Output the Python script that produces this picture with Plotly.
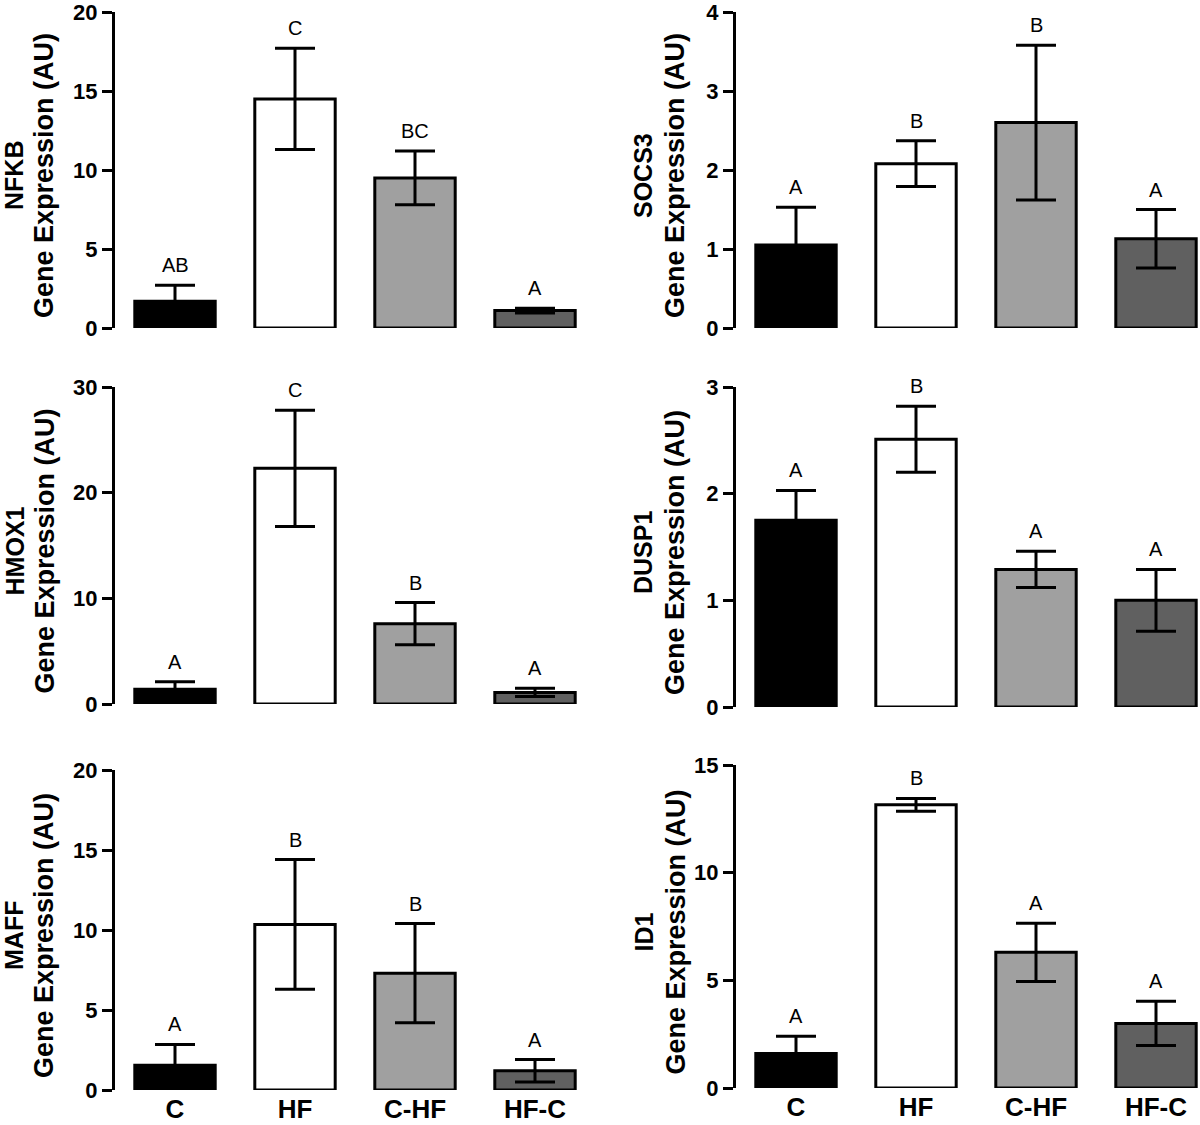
import plotly.graph_objects as go
from plotly.subplots import make_subplots

groups = ["C", "HF", "C-HF", "HF-C"]
colors = ["#000000", "#ffffff", "#a0a0a0", "#606060"]

genes = ["NFKB", "SOCS3", "HMOX1", "DUSP1", "MAFF", "ID1"]

nfkb_mean = [1.7, 14.5, 9.5, 1.1]
nfkb_err = [1.0, 3.2, 1.7, 0.15]
nfkb_letters = ["AB", "C", "BC", "A"]

socs3_mean = [1.05, 2.08, 2.6, 1.13]
socs3_err = [0.48, 0.29, 0.98, 0.37]
socs3_letters = ["A", "B", "B", "A"]

hmox1_mean = [1.4, 22.3, 7.6, 1.1]
hmox1_err = [0.7, 5.5, 2.0, 0.4]
hmox1_letters = ["A", "C", "B", "A"]

dusp1_mean = [1.75, 2.51, 1.29, 1.0]
dusp1_err = [0.28, 0.31, 0.17, 0.29]
dusp1_letters = ["A", "B", "A", "A"]

maff_mean = [1.55, 10.35, 7.3, 1.2]
maff_err = [1.3, 4.05, 3.1, 0.7]
maff_letters = ["A", "B", "B", "A"]

id1_mean = [1.6, 13.15, 6.3, 3.0]
id1_err = [0.8, 0.3, 1.35, 1.03]
id1_letters = ["A", "B", "A", "A"]

y_max = [20, 4, 30, 3, 20, 15]
y_dtick = [5, 1, 10, 1, 5, 5]

means = [nfkb_mean, socs3_mean, hmox1_mean, dusp1_mean, maff_mean, id1_mean]
errs = [nfkb_err, socs3_err, hmox1_err, dusp1_err, maff_err, id1_err]
letters = [nfkb_letters, socs3_letters, hmox1_letters, dusp1_letters, maff_letters, id1_letters]

W, H = 1200, 1125
# pixel layout of each panel: (axis x, right edge x, top y, bottom y)
panels = [
    (115, 595, 12, 328), (736, 1200, 12, 328),
    (115, 595, 387, 704), (736, 1200, 387, 707),
    (115, 595, 770, 1090), (736, 1200, 765, 1088),
]
# x centre (px) of the gene name and of the "Gene Expression" line, per column
title_x = {1: (14, 44), 2: (643, 675)}

FONT = "Liberation Sans, Arial, sans-serif"

fig = make_subplots(rows=3, cols=2)

for i, gene in enumerate(genes):
    r, c = i // 2 + 1, i % 2 + 1
    ax0, ax1, top, bot = panels[i]
    fig.add_trace(go.Bar(
        x=groups, y=means[i],
        marker=dict(color=colors, line=dict(color="black", width=3)),
        width=0.67,
        error_y=dict(type="data", array=errs[i], color="black", thickness=3, width=20),
        showlegend=False,
    ), row=r, col=c)

    span = (ax1 - ax0) / 120.0
    fig.update_xaxes(
        domain=[ax0 / W, ax1 / W], range=[-0.5, -0.5 + span],
        showline=False, showgrid=False, zeroline=False, ticks="",
        showticklabels=(r == 3), automargin=False, ticklabelstandoff=1,
        tickfont=dict(family=FONT, size=26, color="black", weight="bold"),
        row=r, col=c)
    fig.update_yaxes(
        domain=[1 - bot / H, 1 - top / H], range=[0, y_max[i]],
        tickmode="linear", tick0=0, dtick=y_dtick[i],
        showline=True, linecolor="black", linewidth=3,
        ticks="outside", ticklen=10, tickwidth=3, tickcolor="black",
        showgrid=False, zeroline=False, automargin=False,
        ticklabeloverflow="allow",
        tickfont=dict(family=FONT, size=22, color="black", weight="bold"),
        row=r, col=c)

    # significance letters above error bars
    xref = "x" if i == 0 else "x%d" % (i + 1)
    yref = "y" if i == 0 else "y%d" % (i + 1)
    for j, g in enumerate(groups):
        fig.add_annotation(
            x=g, y=means[i][j] + errs[i][j], xref=xref, yref=yref,
            text=letters[i][j], showarrow=False, yanchor="bottom", yshift=7,
            font=dict(family=FONT, size=20, color="black"))

    # two-line y title
    cy = 1 - ((top + bot) / 2 + 6) / H
    gx, ex = title_x[c]
    fig.add_annotation(
        x=gx / W, y=cy, xref="paper", yref="paper", xanchor="center", yanchor="middle",
        text="<b>%s</b>" % gene, textangle=-90, showarrow=False,
        font=dict(family=FONT, size=25, color="black"))
    fig.add_annotation(
        x=ex / W, y=cy, xref="paper", yref="paper", xanchor="center", yanchor="middle",
        text="<b>Gene Expression (AU)</b>", textangle=-90, showarrow=False,
        font=dict(family=FONT, size=27, color="black"))

fig.update_layout(
    width=W, height=H,
    margin=dict(l=0, r=0, t=0, b=0),
    plot_bgcolor="white", paper_bgcolor="white",
    bargap=0.33,
)

fig.write_html("out.html", config={"displayModeBar": False},
               post_script="document.body.style.margin='0';")
